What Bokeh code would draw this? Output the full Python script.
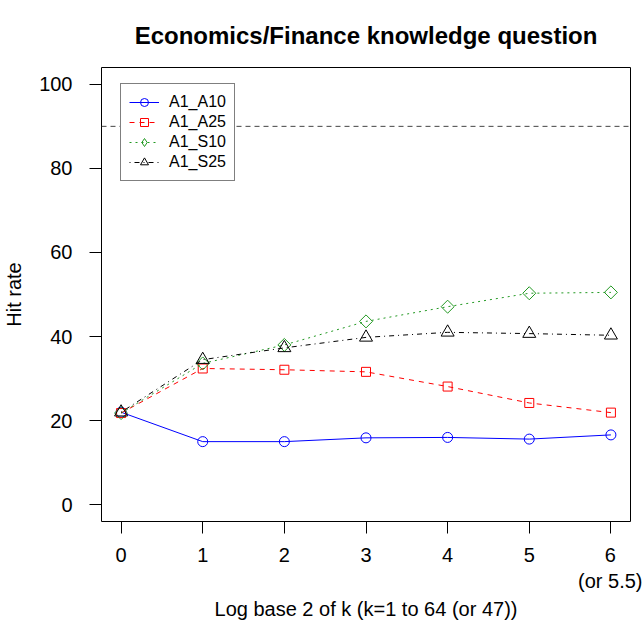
from bokeh.plotting import figure
from bokeh.models import (Range1d, FixedTicker, Span, Legend, LegendItem)
from bokeh.embed import file_html
from bokeh.resources import INLINE
import math

# ---- data ----
x_vals = [0, 1, 2, 3, 4, 5, 6]
a1_a10 = [22.0, 15.0, 15.0, 15.9, 16.0, 15.6, 16.6]
a1_a25 = [21.8, 32.4, 32.1, 31.6, 28.1, 24.2, 21.9]
a1_s10 = [21.8, 33.6, 38.0, 43.6, 47.1, 50.3, 50.5]
a1_s25 = [22.0, 34.5, 37.3, 39.8, 41.0, 40.7, 40.3]
series_names = ["A1_A10", "A1_A25", "A1_S10", "A1_S25"]
x_ticks = [0, 1, 2, 3, 4, 5, 6]
x_tick_labels = {6: "6\n(or 5.5)"}
y_ticks = [0, 20, 40, 60, 80, 100]
ref_level = 90
title_text = "Economics/Finance knowledge question"

FONT = "Liberation Sans"

p = figure(width=642, height=622, output_backend="svg", toolbar_location=None,
           x_range=Range1d(-0.24, 6.24), y_range=Range1d(-4, 104),
           title=title_text)
p.min_border_left = 100
p.min_border_right = 12
p.min_border_top = 67
p.min_border_bottom = 99
p.background_fill_color = "white"
p.border_fill_color = "white"
p.outline_line_color = "black"
p.outline_line_width = 1
p.grid.visible = False

p.title.align = "center"
p.title.vertical_align = "top"
p.title.text_font = FONT
p.title.text_font_size = "24px"
p.title.text_font_style = "bold"
p.title.text_color = "black"
p.title.standoff = 34

for ax in (p.xaxis[0], p.yaxis[0]):
    ax.axis_line_color = None
    ax.major_tick_line_color = "black"
    ax.major_tick_in = 0
    ax.major_tick_out = 12
    ax.minor_tick_line_color = None
    ax.major_label_text_font = FONT
    ax.major_label_text_font_size = "20px"
    ax.major_label_text_color = "black"
    ax.axis_label_text_font = FONT
    ax.axis_label_text_font_size = "20px"
    ax.axis_label_text_font_style = "normal"
    ax.axis_label_text_color = "black"

p.xaxis[0].ticker = FixedTicker(ticks=x_ticks)
p.xaxis[0].major_label_overrides = x_tick_labels
p.xaxis[0].major_label_standoff = 10
p.xaxis[0].major_label_text_line_height = 1.2
p.xaxis[0].axis_label = "Log base 2 of k (k=1 to 64 (or 47))"
p.xaxis[0].axis_label_standoff = 3

p.yaxis[0].ticker = FixedTicker(ticks=y_ticks)
p.yaxis[0].major_label_standoff = 17
p.yaxis[0].axis_label = "Hit rate"
p.yaxis[0].axis_label_standoff = 11

p.add_layout(Span(location=ref_level, dimension="width", line_color="#444444",
                  line_width=1, line_dash="5 4"))

styles = [
    dict(color="#0000FF", dash="solid", marker="circle", size=10, angle=0, leg_marker="circle"),
    dict(color="#FF0000", dash="5 5", marker="square", size=9, angle=0, leg_marker="square"),
    dict(color="#229922", dash="2 4", marker="square", size=9.2, angle=math.pi / 4, leg_marker="diamond"),
    dict(color="#000000", dash="1 4 5 4", marker="triangle", size=13, angle=0, leg_marker="triangle"),
]
series = [a1_a10, a1_a25, a1_s10, a1_s25]

items = []
for name, ys, st in zip(series_names, series, styles):
    ln = p.line(x_vals, ys, line_color=st["color"], line_width=1, line_dash=st["dash"])
    sc = p.scatter(x_vals, ys, marker=st["marker"], size=st["size"], angle=st["angle"],
                   fill_color=None, line_color=st["color"], line_width=1)
    if st["leg_marker"] != st["marker"]:
        # legend-only proxy (a single NaN point, so nothing shows in the plot)
        leg = p.scatter([float("nan")], [float("nan")], marker=st["leg_marker"],
                        size=st["size"], fill_color=None, line_color=st["color"],
                        line_width=1)
        items.append(LegendItem(label=name, renderers=[ln, leg]))
    else:
        items.append(LegendItem(label=name, renderers=[ln, sc]))

legend = Legend(items=items, location=(19, 340))
legend.padding = 8
legend.spacing = 0
legend.glyph_width = 30
legend.glyph_height = 20
legend.label_height = 20
legend.label_standoff = 10
legend.label_text_font = FONT
legend.label_text_font_size = "16px"
legend.label_text_color = "black"
legend.border_line_color = "black"
legend.border_line_width = 1
legend.background_fill_color = "white"
legend.background_fill_alpha = 1.0
legend.margin = 0
p.add_layout(legend)

open("out.html", "w").write(file_html(p, INLINE))
